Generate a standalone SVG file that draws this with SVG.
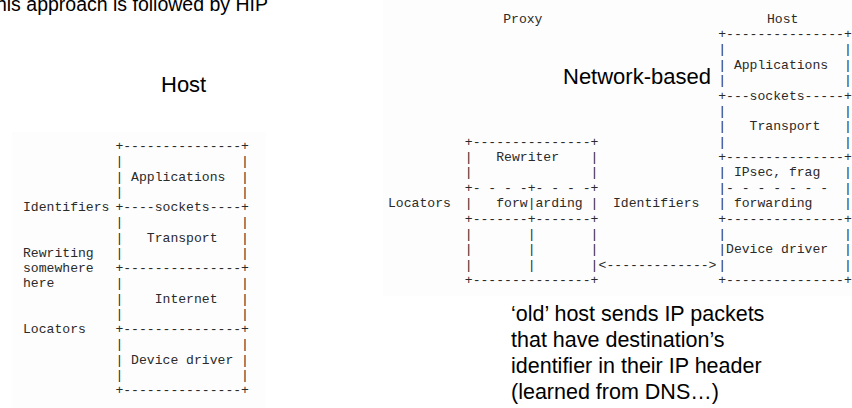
<svg xmlns="http://www.w3.org/2000/svg" width="852" height="408" viewBox="0 0 852 408" xml:space="preserve">
  <style>
    .bg { fill: #ffffff; }
    .panel { fill: #fdfdfd; }
    .title { font-family: "Liberation Sans", Arial, sans-serif; font-size: 22px; fill: #000000; }
    .head { font-family: "Liberation Sans", Arial, sans-serif; font-size: 19.5px; fill: #000000; }
    .note { font-family: "Liberation Sans", Arial, sans-serif; font-size: 21.5px; fill: #000000; }
    .m { font-family: "Liberation Mono", "Courier New", monospace; font-size: 13.1px; fill: #2a2a2a; white-space: pre; }
  </style>

  <rect class="bg" x="0" y="0" width="852" height="408"/>
  <!-- faint backing panels behind the two ASCII figures -->
  <rect class="panel" x="12" y="132" width="254" height="276"/>
  <rect class="panel" x="383" y="0" width="469" height="296"/>

  <!-- heading line, partly clipped at the top-left edge -->
  <text class="head" x="268" y="11" text-anchor="end">This approach is followed by HIP</text>

  <!-- left figure: host-based rewriting -->
  <text id="host-title" class="title" x="161" y="92">Host</text>

  <g id="host-left-labels">
    <text class="m" x="23" y="211">Identifiers</text>
    <text class="m" x="23" y="256.75">Rewriting</text>
    <text class="m" x="23" y="272">somewhere</text>
    <text class="m" x="23" y="287.25">here</text>
    <text class="m" x="23" y="333">Locators</text>
  </g>

  <g id="host-left-stack">
    <text class="m" x="115.4" y="150">+---------------+</text>
    <text class="m" x="115.4" y="165.25">|               |</text>
    <text class="m" x="115.4" y="180.5">| Applications  |</text>
    <text class="m" x="115.4" y="195.75">|               |</text>
    <text class="m" x="115.4" y="211">+----sockets----+</text>
    <text class="m" x="115.4" y="226.25">|               |</text>
    <text class="m" x="115.4" y="241.5">|   Transport   |</text>
    <text class="m" x="115.4" y="256.75">|               |</text>
    <text class="m" x="115.4" y="272">+---------------+</text>
    <text class="m" x="115.4" y="287.25">|               |</text>
    <text class="m" x="115.4" y="302.5">|    Internet   |</text>
    <text class="m" x="115.4" y="317.75">|               |</text>
    <text class="m" x="115.4" y="333">+---------------+</text>
    <text class="m" x="115.4" y="348.25">|               |</text>
    <text class="m" x="115.4" y="363.5">| Device driver |</text>
    <text class="m" x="115.4" y="378.75">|               |</text>
    <text class="m" x="115.4" y="394">+---------------+</text>
  </g>

  <!-- right figure: network-based proxy -->
  <text id="network-title" class="title" x="563" y="84">Network-based</text>

  <g id="right-labels">
    <text class="m" x="503.2" y="22.6">Proxy</text>
    <text class="m" x="767" y="22.6">Host</text>
    <text class="m" x="388" y="207.1">Locators</text>
    <text class="m" x="613" y="207.1">Identifiers</text>
  </g>

  <g id="proxy">
    <text class="m" x="464.8" y="145.6">+---------------+</text>
    <text class="m" x="464.8" y="161">|   Rewriter    |</text>
    <text class="m" x="464.8" y="176.4">|               |</text>
    <text class="m" x="464.8" y="191.75">+- - - -+- - - -+</text>
    <text class="m" x="464.8" y="207.1">|   forw|arding |</text>
    <text class="m" x="464.8" y="222.5">+-------+-------+</text>
    <text class="m" x="464.8" y="237.9">|       |       |</text>
    <text class="m" x="464.8" y="253.25">|       |       |</text>
    <text class="m" x="464.8" y="268.6">|       |       |</text>
    <text class="m" x="464.8" y="284">+---------------+</text>
  </g>

  <g id="host-right">
    <text class="m" x="718.2" y="38">+---------------+</text>
    <text class="m" x="718.2" y="53.4">|               |</text>
    <text class="m" x="718.2" y="68.75">| Applications  |</text>
    <text class="m" x="718.2" y="84.1">|               |</text>
    <text class="m" x="718.2" y="99.5">+---sockets-----+</text>
    <text class="m" x="718.2" y="114.9">|               |</text>
    <text class="m" x="718.2" y="130.25">|   Transport   |</text>
    <text class="m" x="718.2" y="145.6">|               |</text>
    <text class="m" x="718.2" y="161">+---------------+</text>
    <text class="m" x="718.2" y="176.4">| IPsec, frag   |</text>
    <text class="m" x="718.2" y="191.75">|- - - - - - -  |</text>
    <text class="m" x="718.2" y="207.1">| forwarding    |</text>
    <text class="m" x="718.2" y="222.5">+---------------+</text>
    <text class="m" x="718.2" y="237.9">|               |</text>
    <text class="m" x="718.2" y="253.25">|Device driver  |</text>
    <text class="m" x="718.2" y="268.6">|               |</text>
    <text class="m" x="718.2" y="284">+---------------+</text>
  </g>

  <g id="connectors">
    <text class="m" x="598.6" y="268.6">&lt;-------------&gt;</text>
  </g>

  <!-- explanatory note under the proxy figure -->
  <g id="note">
    <text class="note" x="511" y="321">‘old’ host sends IP packets</text>
    <text class="note" x="511" y="347">that have destination’s</text>
    <text class="note" x="511" y="373">identifier in their IP header</text>
    <text class="note" x="511" y="399">(learned from DNS…)</text>
  </g>
</svg>
